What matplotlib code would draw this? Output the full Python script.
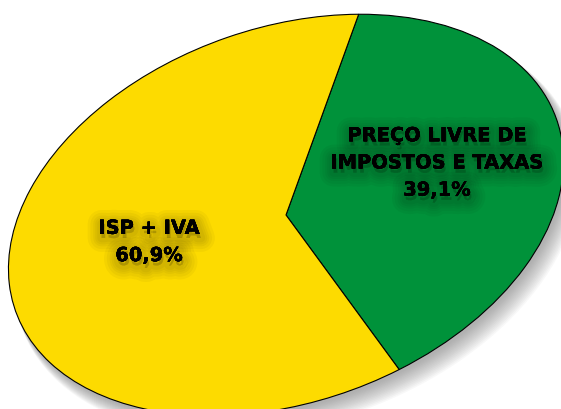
import matplotlib
matplotlib.use("Agg")
import matplotlib.pyplot as plt
import matplotlib.patheffects as pe
from matplotlib.patches import Ellipse
from matplotlib.transforms import Affine2D

# data
labels = ["PREÇO LIVRE DE\nIMPOSTOS E TAXAS\n39,1%", "ISP + IVA\n60,9%"]
shares = [39.1, 60.9]
colors = ["#00923A", "#FDDB00"]

# ellipse geometry in pixels (y up)
cx, cy = 286, 194
semi_a, semi_b = 287, 187
tilt = 19.6

fig = plt.figure(figsize=(5.61, 4.10), dpi=100)
ax = fig.add_axes([0, 0, 1, 1])

# soft shadow to the lower right
for k in range(14):
    sh = Ellipse((cx + 2 + k * 0.7, cy - 3 - k * 0.9), 2 * semi_a + k * 0.8,
                 2 * semi_b + k * 0.8, angle=tilt, facecolor="#555555",
                 edgecolor="none", alpha=0.04, zorder=1)
    ax.add_patch(sh)

wedges, _ = ax.pie(shares, colors=colors, startangle=-79, counterclock=True,
                   wedgeprops=dict(edgecolor="black", linewidth=0.8))
tr = Affine2D().scale(semi_a, semi_b).rotate_deg(tilt).translate(cx, cy) + ax.transData
for w in wedges:
    w.set_transform(tr)
    w.set_zorder(2)

ax.set_xlim(0, 561)
ax.set_ylim(0, 410)
ax.set_aspect("auto")
ax.axis("off")

# blurred dark halo behind the labels
glow = [pe.withStroke(linewidth=lw, foreground="black", alpha=0.035, offset=(1, -3))
        for lw in (20, 16, 12, 9, 6)] + [pe.Normal()]

ax.text(437, 410 - 164, labels[0], ha="center", va="center", fontsize=14,
        fontfamily="DejaVu Sans", fontweight="bold", linespacing=1.55,
        color="black", path_effects=glow, zorder=3)
ax.text(149, 410 - 243, labels[1], ha="center", va="center", fontsize=14,
        fontfamily="DejaVu Sans", fontweight="bold", linespacing=1.55,
        color="black", path_effects=glow, zorder=3)

fig.savefig("out.png", dpi=100)
